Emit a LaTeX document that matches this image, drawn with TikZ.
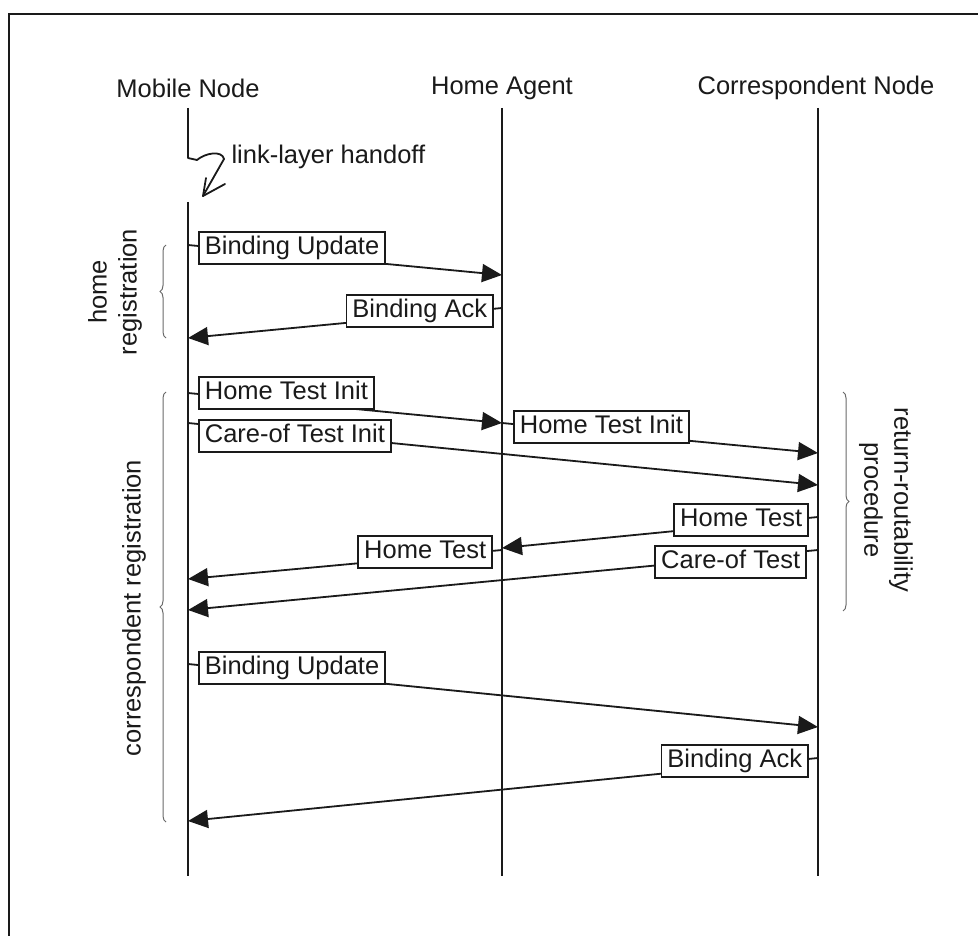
\documentclass[tikz,border=0pt]{standalone}
\usepackage{fontspec}
\setmainfont{Liberation Sans}
\usetikzlibrary{arrows.meta,decorations.pathreplacing}

\definecolor{ink}{HTML}{1A1A1A}
\definecolor{bracegrey}{HTML}{6A6A6A}

\tikzset{
  every node/.style={text=ink},
  header/.style={font=\fontsize{25.5}{29}\selectfont},
  lifeline/.style={draw=ink, line width=1.8pt},
  msg/.style={draw=ink, line width=1.8pt, -{Triangle[length=20pt,width=18pt]}},
  lbl/.style={draw=ink, fill=white, line width=1.8pt,
              font=\fontsize{25.5}{29}\selectfont,
              text height=18pt, text depth=5pt, inner xsep=6pt, inner ysep=4.5pt},
  grp/.style={draw=bracegrey, line width=1pt, decorate,
              decoration={brace, amplitude=6pt}},
  grplabel/.style={font=\fontsize{25.5}{30}\selectfont, align=center}
}

\begin{document}
\begin{tikzpicture}[x=1pt, y=-1pt]
  \useasboundingbox (0,0) rectangle (978,936);
  \fill[white] (0,0) rectangle (978,936);

  % frame (its right and bottom edges run past the page)
  \draw[ink, line width=2pt] (9,990) -- (9,14) -- (1000,14);

  % participants
  \node[header] (mn) at (188,88) {Mobile Node};
  \node[header] (ha) at (502,88) {Home Agent};
  \node[header] (cn) at (816,88) {Correspondent Node};

  % lifelines
  \coordinate (mntop) at (188,108);
  \coordinate (mnbreak) at (188,158);
  \coordinate (mnresume) at (188,202);
  \coordinate (mnend) at (188,876);
  \coordinate (hatop) at (502,108);
  \coordinate (haend) at (502,876);
  \coordinate (cntop) at (818,108);
  \coordinate (cnend) at (818,876);
  \draw[lifeline] (mntop) -- (mnbreak);
  \draw[lifeline] (mnresume) -- (mnend);
  \draw[lifeline] (hatop) -- (haend);
  \draw[lifeline] (cntop) -- (cnend);

  % link-layer handoff squiggle
  \coordinate (hotip) at (203,196);
  \draw[ink, line width=1.8pt, line join=round, line cap=round]
    (mnbreak) -- (197,160) .. controls (205,153) and (222,150) .. (224,159) -- (hotip);
  \draw[ink, line width=1.8pt, line cap=round] (hotip) -- (206,178);
  \draw[ink, line width=1.8pt, line cap=round] (hotip) -- (225,184);
  \node[header, anchor=west] (handoff) at (228,157) {link-layer handoff};

  % message end points
  \coordinate (a1) at (188,245);  \coordinate (b1) at (502,275);
  \coordinate (a2) at (502,308);  \coordinate (b2) at (188,338);
  \coordinate (a3) at (188,393);  \coordinate (b3) at (502,423);
  \coordinate (a4) at (502,423);  \coordinate (b4) at (818,453);
  \coordinate (a5) at (188,423);  \coordinate (b5) at (818,485);
  \coordinate (a6) at (818,517);  \coordinate (b6) at (502,548);
  \coordinate (a7) at (818,550);  \coordinate (b7) at (188,610);
  \coordinate (a8) at (502,550);  \coordinate (b8) at (188,579);
  \coordinate (a9) at (188,664);  \coordinate (b9) at (818,727);
  \coordinate (a10) at (818,758); \coordinate (b10) at (188,821);

  \foreach \i in {1,...,10} {
    \draw[msg] (a\i) -- (b\i);
  }

  % message labels
  \node[lbl, anchor=north west] (l1) at (198,231) {Binding Update};
  \node[lbl, anchor=north east] (l2) at (494,294) {Binding Ack};
  \node[lbl, anchor=north west] (l3) at (198,376) {Home Test Init};
  \node[lbl, anchor=north west] (l4) at (513,410) {Home Test Init};
  \node[lbl, anchor=north west] (l5) at (198,419) {Care-of Test Init};
  \node[lbl, anchor=north east] (l6) at (809,503) {Home Test};
  \node[lbl, anchor=north east] (l7) at (807,545) {Care-of Test};
  \node[lbl, anchor=north east] (l8) at (493,535) {Home Test};
  \node[lbl, anchor=north west] (l9) at (198,651) {Binding Update};
  \node[lbl, anchor=north east] (l10) at (809,744) {Binding Ack};

  % phase braces
  \coordinate (hrlo) at (166,338);  \coordinate (hrhi) at (166,245);
  \coordinate (crlo) at (166,822);  \coordinate (crhi) at (166,392);
  \coordinate (rrhi) at (843,392);  \coordinate (rrlo) at (843,611);
  \draw[grp] (hrlo) -- (hrhi);
  \draw[grp] (crlo) -- (crhi);
  \draw[grp] (rrhi) -- (rrlo);

  \node[grplabel, rotate=90] (hrtext) at (115,292) {home\\registration};
  \node[grplabel, rotate=90] (crtext) at (134,608) {correspondent registration};
  \node[grplabel, rotate=-90] (rrtext) at (886,500) {return-routability\\procedure};
\end{tikzpicture}
\end{document}
